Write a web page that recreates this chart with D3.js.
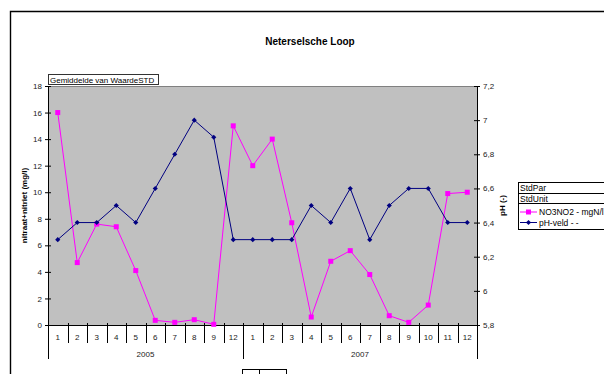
<!DOCTYPE html>
<html>
<head>
<meta charset="utf-8">
<script src="https://cdn.jsdelivr.net/npm/d3@7"></script>
<style>
body{margin:0;background:#fff;}
text{font-family:"Liberation Sans",Arial,sans-serif;}
</style>
</head>
<body>
<svg width="604" height="374"></svg>
<script>
// data
var years=['2005','2007'];
var months2005=[1,2,3,4,5,6,7,8,9,12];
var months2007=[1,2,3,4,5,6,7,8,9,10,11,12];
var no3no2=[16.0,4.7,7.6,7.4,4.1,0.35,0.2,0.4,0.05,15.0,
	12.0,14.0,7.7,0.6,4.8,5.6,3.8,0.7,0.2,1.5,9.9,10.0];
var ph=[6.3,6.4,6.4,6.5,6.4,6.6,6.8,7.0,6.9,6.3,
	6.3,6.3,6.3,6.5,6.4,6.6,6.3,6.5,6.6,6.6,6.4,6.4];
var leftTicks=[0,2,4,6,8,10,12,14,16,18];
var rightTicks=[5.8,6,6.2,6.4,6.6,6.8,7,7.2];

var cats=[];
months2005.forEach(m=>cats.push({key:'2005-'+m,month:m,year:'2005'}));
months2007.forEach(m=>cats.push({key:'2007-'+m,month:m,year:'2007'}));

// note: "top" is a reserved window property, so plot edges get their own names
var pLeft=48, pRight=477, pTop=86, pBottom=325;
var svg=d3.select('svg');

// outer frame
svg.append('path')
	.attr('d','M10.5,374V11.5H604')
	.attr('fill','none')
	.attr('stroke','#000')
	.attr('stroke-width',1.4);

svg.append('text')
	.attr('x',310)
	.attr('y',45)
	.attr('text-anchor','middle')
	.style('font-size','10px')
	.style('font-weight','bold')
	.text('Neterselsche Loop');

var xScale=d3.scaleBand()
	.domain(cats.map(c=>c.key))
	.range([pLeft,pRight])
	.padding(0);
var cx=k=>xScale(k)+xScale.bandwidth()/2;

var yLeft=d3.scaleLinear().domain([0,18]).range([pBottom,pTop]);
var yRight=d3.scaleLinear().domain([5.8,7.2]).range([pBottom,pTop]);

// plot area
svg.append('rect')
	.attr('x',pLeft).attr('y',pTop)
	.attr('width',pRight-pLeft).attr('height',pBottom-pTop)
	.attr('fill','#c0c0c0');
svg.append('line')
	.attr('x1',pLeft).attr('x2',pRight)
	.attr('y1',pTop+0.5).attr('y2',pTop+0.5)
	.attr('stroke','#808080');

// page field box
svg.append('rect')
	.attr('x',48.5).attr('y',74.5)
	.attr('width',110).attr('height',10)
	.attr('fill','#fff').attr('stroke','#333').attr('stroke-width',1);
svg.append('text')
	.attr('x',50).attr('y',82.5)
	.style('font-size','8px')
	.text('Gemiddelde van WaardeSTD');

// left axis
var gl=svg.append('g')
	.attr('transform','translate('+pLeft+',0)')
	.call(d3.axisLeft(yLeft).tickValues(leftTicks).tickSize(3).tickSizeOuter(0).tickPadding(3));
gl.selectAll('.tick line').attr('x1',3);
gl.selectAll('text').style('font-size','8px').attr('fill','#222');

// right axis
var fmt=d=>String(+d.toFixed(1)).replace('.',',');
var gr=svg.append('g')
	.attr('transform','translate('+pRight+',0)')
	.call(d3.axisRight(yRight).tickValues(rightTicks).tickFormat(fmt).tickSize(3).tickSizeOuter(0).tickPadding(3));
gr.selectAll('.tick line').attr('x1',-3);
gr.selectAll('text').style('font-size','8px').attr('fill','#222');

// bottom category axis
var gb=svg.append('g')
	.attr('transform','translate(0,'+pBottom+')')
	.call(d3.axisBottom(xScale).tickSize(0).tickPadding(9).tickFormat(k=>cats.find(c=>c.key===k).month));
gb.select('.domain').attr('d','M'+pLeft+',0.5H'+pRight);
gb.selectAll('text').style('font-size','8px').attr('fill','#222');

// category dividers
cats.forEach(function(c,i){
	var newYear=(i===0||cats[i-1].year!==c.year);
	var x=Math.round(xScale(c.key))+0.5;
	svg.append('line')
		.attr('x1',x).attr('x2',x)
		.attr('y1',pBottom-2).attr('y2',newYear?359:343)
		.attr('stroke','#000');
});
svg.append('line')
	.attr('x1',pRight+0.5).attr('x2',pRight+0.5)
	.attr('y1',pBottom).attr('y2',359)
	.attr('stroke','#000');

// year labels
years.forEach(function(y){
	var ks=cats.filter(c=>c.year===y);
	var x0=xScale(ks[0].key), x1=xScale(ks[ks.length-1].key)+xScale.bandwidth();
	svg.append('text')
		.attr('x',(x0+x1)/2).attr('y',357)
		.attr('text-anchor','middle')
		.style('font-size','8px').attr('fill','#222')
		.text(y);
});

// axis titles
svg.append('text')
	.attr('transform','translate(27,'+((pTop+pBottom)/2)+') rotate(-90)')
	.attr('text-anchor','middle')
	.style('font-size','8px').style('font-weight','bold')
	.text('nitraat+nitriet (mg/l)');
svg.append('text')
	.attr('transform','translate(505,'+((pTop+pBottom)/2)+') rotate(-90)')
	.attr('text-anchor','middle')
	.style('font-size','8px').style('font-weight','bold')
	.text('pH (-)');

// series
var line1=d3.line().x((d,i)=>cx(cats[i].key)).y(d=>yLeft(d));
var line2=d3.line().x((d,i)=>cx(cats[i].key)).y(d=>yRight(d));

svg.append('path')
	.datum(no3no2)
	.attr('d',line1)
	.attr('fill','none').attr('stroke','#ff00ff').attr('stroke-width',1);
svg.selectAll('.sq')
	.data(no3no2)
	.enter()
	.append('rect')
		.attr('class','sq')
		.attr('x',(d,i)=>cx(cats[i].key)-2.5)
		.attr('y',d=>yLeft(d)-2.5)
		.attr('width',5).attr('height',5)
		.attr('fill','#ff00ff');

var diamond=d3.symbol(d3.symbolSquare,13);
svg.append('path')
	.datum(ph)
	.attr('d',line2)
	.attr('fill','none').attr('stroke','#000080').attr('stroke-width',1);
svg.selectAll('.dm')
	.data(ph)
	.enter()
	.append('path')
		.attr('class','dm')
		.attr('transform',(d,i)=>'translate('+cx(cats[i].key)+','+yRight(d)+') rotate(45)')
		.attr('d',diamond)
		.attr('fill','#000080');

// legend
var lg=svg.append('g').attr('transform','translate(518,182)');
lg.append('rect').attr('x',0.5).attr('y',0.5).attr('width',100).attr('height',47)
	.attr('fill','#fff').attr('stroke','#000');
lg.append('line').attr('x1',0).attr('x2',100).attr('y1',11.5).attr('y2',11.5).attr('stroke','#000');
lg.append('line').attr('x1',0).attr('x2',100).attr('y1',21.5).attr('y2',21.5).attr('stroke','#000');
lg.append('text').attr('x',2).attr('y',9).style('font-size','8.5px').text('StdPar');
lg.append('text').attr('x',2).attr('y',19.5).style('font-size','8.5px').text('StdUnit');
var legItems=[
	{name:'NO3NO2 - mgN/l',color:'#ff00ff',shape:'sq',y:30},
	{name:'pH-veld - -',color:'#000080',shape:'dm',y:40.5}];
legItems.forEach(function(it){
	lg.append('line').attr('x1',2).attr('x2',19).attr('y1',it.y).attr('y2',it.y)
		.attr('stroke',it.color);
	if(it.shape==='sq'){
		lg.append('rect').attr('x',8).attr('y',it.y-2.5).attr('width',5).attr('height',5).attr('fill',it.color);
	}else{
		lg.append('path').attr('transform','translate(10.5,'+it.y+') rotate(45)')
			.attr('d',diamond).attr('fill',it.color);
	}
	lg.append('text').attr('x',21).attr('y',it.y+3).style('font-size','8.5px').text(it.name);
});

// small field box at the bottom
svg.append('rect').attr('x',242.5).attr('y',369.5).attr('width',44).attr('height',10)
	.attr('fill','#fff').attr('stroke','#000');
svg.append('line').attr('x1',259.5).attr('x2',259.5).attr('y1',369).attr('y2',374).attr('stroke','#000');
</script>
</body>
</html>
